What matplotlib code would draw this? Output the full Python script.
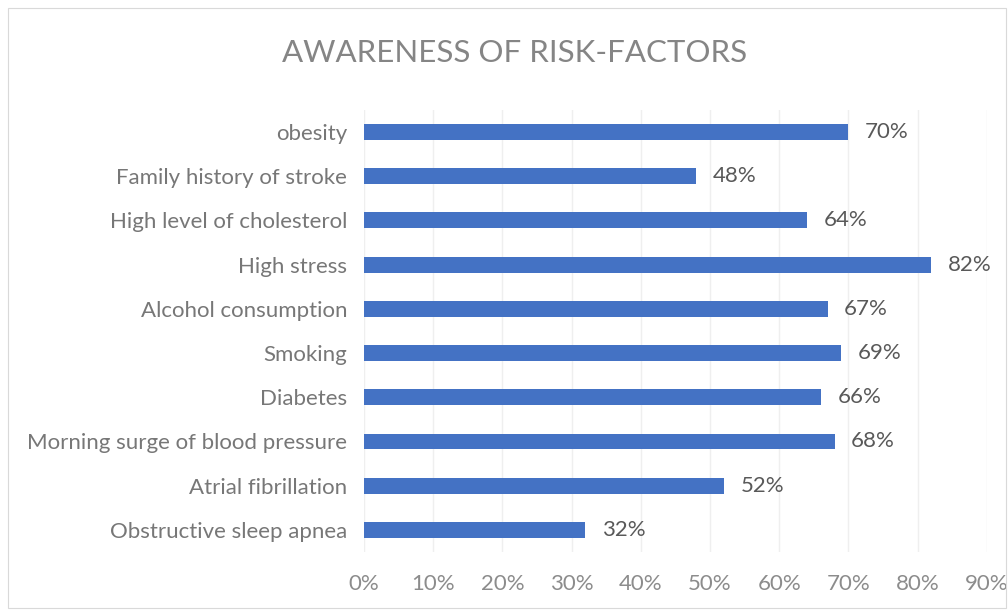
import matplotlib.pyplot as plt
from matplotlib.patches import Rectangle

# risk factors, listed bottom to top as drawn on the y axis
factors = ["Obstructive sleep apnea", "Atrial fibrillation",
           "Morning surge of blood pressure", "Diabetes", "Smoking",
           "Alcohol consumption", "High stress", "High level of cholesterol",
           "Family history of stroke", "obesity"]
awareness = [32, 52, 68, 66, 69, 67, 82, 64, 48, 70]
ticks = [0, 10, 20, 30, 40, 50, 60, 70, 80, 90]
tick_labels = [f"{t}%" for t in ticks]

plt.rcParams['font.family'] = ['Lato', 'DejaVu Sans']

fig = plt.figure(figsize=(10.08, 6.10), dpi=100)
ax = fig.add_axes([0.361, 0.095, 0.618, 0.725])

# thin frame around the whole chart area
fig.patches.append(Rectangle((0.008, 0.003), 0.99, 0.984, transform=fig.transFigure,
                             fill=False, edgecolor='#d9d9d9', lw=0.8))

y = range(len(factors))
ax.barh(y, awareness, height=0.36, color='#4472C4', zorder=3)
for yi, v in zip(y, awareness):
    ax.text(v + 2.4, yi, f"{v}%", va='center', ha='left', fontsize=16, color='#595959')

ax.set_xlim(0, 90)
ax.set_ylim(-0.5, len(factors) - 0.5)
ax.set_xticks(ticks)
ax.set_xticklabels(tick_labels)
ax.set_yticks(list(y))
ax.set_yticklabels(factors)
ax.tick_params(axis='x', length=0, labelsize=16, labelcolor='#8c8c8c', pad=16)
ax.tick_params(axis='y', length=0, labelsize=16, labelcolor='#777777', pad=12)
ax.grid(axis='x', color='#efefef', lw=1, zorder=0)
for s in ax.spines.values():
    s.set_visible(False)

fig.text(0.51, 0.913, "AWARENESS OF RISK-FACTORS", ha='center', va='center',
         fontsize=22.5, color='#858585')

fig.savefig("out.png", dpi=100)
